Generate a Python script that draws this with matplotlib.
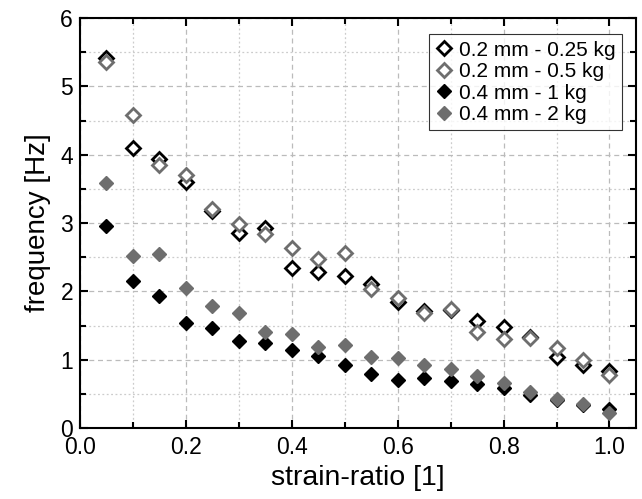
import matplotlib
matplotlib.use('Agg')
import matplotlib.pyplot as plt
from matplotlib.ticker import MultipleLocator, FormatStrFormatter

plt.rcParams['font.family'] = ['Liberation Sans', 'DejaVu Sans']

strain = [0.05, 0.1, 0.15, 0.2, 0.25, 0.3, 0.35, 0.4, 0.45, 0.5,
          0.55, 0.6, 0.65, 0.7, 0.75, 0.8, 0.85, 0.9, 0.95, 1.0]

f_02_025 = [5.42, 4.10, 3.93, 3.60, 3.17, 2.86, 2.93, 2.34, 2.29, 2.22,
            2.11, 1.85, 1.71, 1.73, 1.56, 1.48, 1.33, 1.04, 0.93, 0.83]
f_02_05 = [5.36, 4.58, 3.85, 3.71, 3.21, 2.99, 2.84, 2.64, 2.47, 2.56,
           2.03, 1.90, 1.68, 1.74, 1.40, 1.31, 1.32, 1.17, 0.99, 0.78]
f_04_1 = [2.96, 2.15, 1.94, 1.54, 1.46, 1.27, 1.24, 1.14, 1.06, 0.93,
          0.79, 0.70, 0.74, 0.69, 0.64, 0.58, 0.48, 0.41, 0.34, 0.28]
f_04_2 = [3.58, 2.52, 2.54, 2.05, 1.79, 1.69, 1.41, 1.37, 1.19, 1.22,
          1.04, 1.02, 0.92, 0.87, 0.76, 0.66, 0.53, 0.43, 0.35, 0.22]

labels = ['0.2 mm - 0.25 kg', '0.2 mm - 0.5 kg', '0.4 mm - 1 kg', '0.4 mm - 2 kg']
gray = '#6e6e6e'

fig = plt.figure(figsize=(6.42, 4.99), dpi=100)
ax = fig.add_axes([0.1246, 0.142, 0.866, 0.822])

ms = 7.5
ax.plot(strain, f_02_025, 'D', ms=ms, mfc='white', mec='black', mew=2.0, label=labels[0], zorder=3)
ax.plot(strain, f_02_05, 'D', ms=ms, mfc='white', mec=gray, mew=2.0, label=labels[1], zorder=3)
ax.plot(strain, f_04_1, 'D', ms=ms, mfc='black', mec='black', mew=1.0, label=labels[2], zorder=3)
ax.plot(strain, f_04_2, 'D', ms=ms, mfc=gray, mec=gray, mew=1.0, label=labels[3], zorder=3)

ax.set_xlim(0, 1.05)
ax.set_ylim(0, 6)
ax.xaxis.set_major_locator(MultipleLocator(0.2))
ax.xaxis.set_minor_locator(MultipleLocator(0.1))
ax.yaxis.set_major_locator(MultipleLocator(1))
ax.yaxis.set_minor_locator(MultipleLocator(0.5))
ax.xaxis.set_major_formatter(FormatStrFormatter('%.1f'))

ax.grid(which='major', color='#bbbbbb', linestyle=(0, (4, 3)), linewidth=0.9)
ax.grid(which='minor', color='#cccccc', linestyle=(0, (1.5, 2)), linewidth=0.9)

ax.tick_params(which='both', direction='in', top=True, right=True, width=1.5, labelsize=16.5)
ax.tick_params(which='major', length=6)
ax.tick_params(axis='x', which='major', pad=6)
ax.tick_params(axis='y', which='major', pad=5)
ax.tick_params(which='minor', length=4)
for s in ax.spines.values():
    s.set_linewidth(1.5)

ax.set_xlabel('strain-ratio [1]', fontsize=20.5, labelpad=4)
ax.set_ylabel('frequency [Hz]', fontsize=20, labelpad=7)

leg = ax.legend(loc='upper right', bbox_to_anchor=(0.982, 0.97), fontsize=15, frameon=True,
                fancybox=False, edgecolor='black', handletextpad=0.25, borderpad=0.3,
                labelspacing=0.12, handlelength=0.9, borderaxespad=0.2)
leg.get_frame().set_linewidth(0.8)

plt.savefig('out.png', dpi=100)
